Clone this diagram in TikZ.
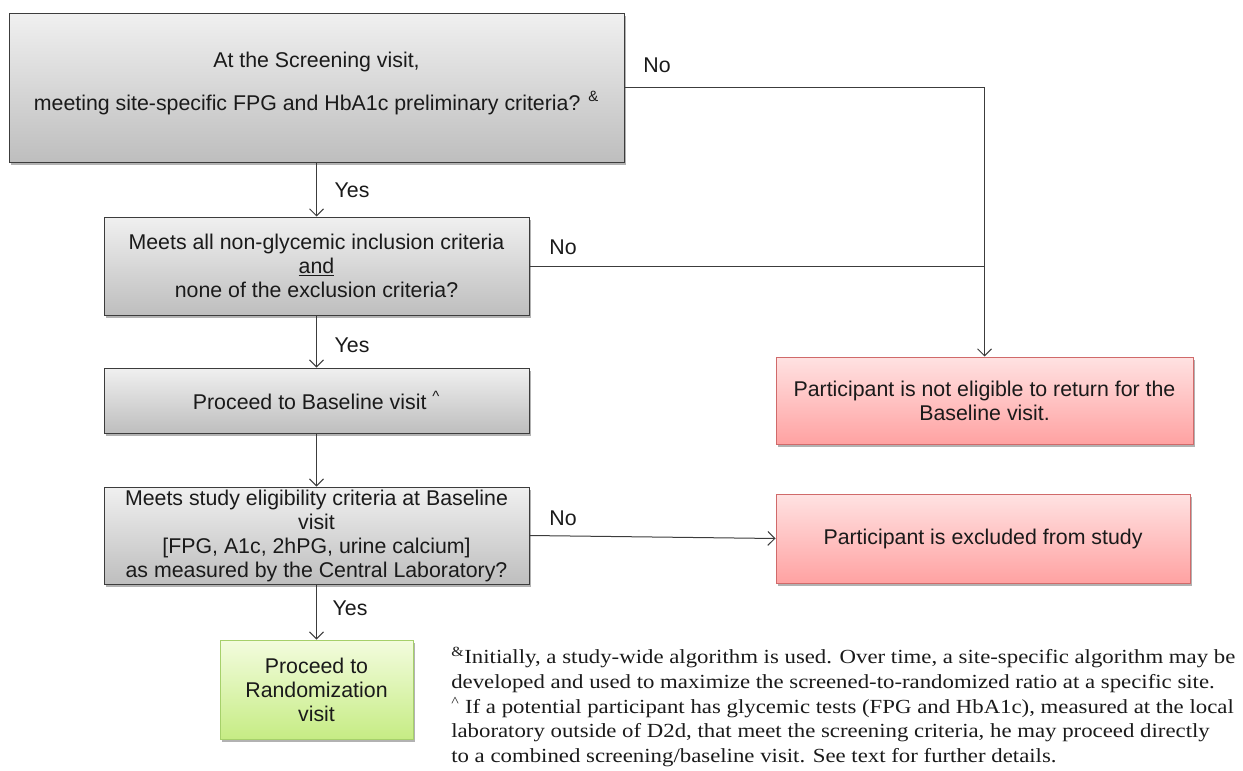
\documentclass[tikz,border=0pt]{standalone}
\usepackage{fontspec}
\setmainfont{Liberation Sans}
\newfontfamily\notefont[FakeStretch=1.14]{Liberation Serif}
\usetikzlibrary{arrows.meta,shadows}
\definecolor{graytop}{HTML}{F0F0F0}
\definecolor{graybot}{HTML}{BEBEBE}
\definecolor{grayline}{HTML}{3C3C3C}
\definecolor{redtop}{HTML}{FFE2E2}
\definecolor{redbot}{HTML}{FFA2A2}
\definecolor{redline}{HTML}{D06A6A}
\definecolor{greentop}{HTML}{F3FCDE}
\definecolor{greenbot}{HTML}{C6EC84}
\definecolor{greenline}{HTML}{A6D06A}
\definecolor{txt}{HTML}{1A1A1A}
\newcommand\boxfont{\fontsize{16pt}{18pt}\selectfont}
\newcommand\notesize{\fontsize{15pt}{18.56pt}\selectfont}
\begin{document}
\begin{tikzpicture}[x=0.75pt,y=-0.75pt,
  basebox/.style={inner sep=0pt, align=center, font=\boxfont, text=txt,
    line width=0.75pt,
    drop shadow={shadow xshift=1.5pt, shadow yshift=-1.9pt, opacity=0.3, fill=black}},
  gbox/.style={basebox, draw=grayline, top color=graytop, bottom color=graybot},
  rbox/.style={basebox, draw=redline, top color=redtop, bottom color=redbot},
  ngbox/.style={basebox, draw=greenline, top color=greentop, bottom color=greenbot},
  lbl/.style={font=\boxfont, text=txt, inner sep=0pt},
  conn/.style={draw=grayline, line width=0.75pt},
  arr/.style={conn, -{Straight Barb[length=5.25pt, width=10.5pt, line width=0.75pt]}},
  note/.style={font=\notefont\notesize, text=txt, align=left, inner sep=0pt}]
\useasboundingbox (0,0) rectangle (1243,771);

\node[gbox, minimum width=461.25pt, minimum height=111.75pt] (b1) at (316.5,87.5)
  {At the Screening visit,\\[14pt]meeting site-specific FPG and HbA1c preliminary criteria? \textsuperscript{\&}\\[-8.5pt]\mbox{}};
\node[gbox, minimum width=318.75pt, minimum height=73.5pt] (b2) at (316.5,266)
  {Meets all non-glycemic inclusion criteria\\\underline{and}\\none of the exclusion criteria?};
\node[gbox, minimum width=318.75pt, minimum height=48.75pt] (b3) at (316.5,400.5)
  {Proceed to Baseline visit \textsuperscript{\textasciicircum}};
\node[gbox, minimum width=318.75pt, minimum height=72.75pt] (b4) at (316.5,535.5)
  {Meets study eligibility criteria at Baseline\\visit\\{[FPG, A1c, 2hPG, urine calcium]}\\as measured by the Central Laboratory?};
\node[ngbox, minimum width=144.75pt, minimum height=74.25pt] (b5) at (316.5,689.5)
  {Proceed to\\Randomization\\visit};
\node[rbox, minimum width=312.75pt, minimum height=65.25pt] (ne) at (984.5,400.5)
  {Participant is not eligible to return for the\\Baseline visit.};
\node[rbox, minimum width=310.5pt, minimum height=66.75pt] (ex) at (983,538.5)
  {Participant is excluded from study};

\draw[arr] (b1) -- (b2);
\draw[arr] (b2) -- (b3);
\draw[arr] (b3) -- (b4);
\draw[arr] (b4) -- (b5);
\draw[arr] (b1.east) -| (ne.north);
\draw[conn] (b2.east) -- (b2.east -| ne.north);
\draw[arr] (b4.east) -- (ex.west);

\node[lbl] (no1) at (657,65) {No};
\node[lbl] (no2) at (563,247) {No};
\node[lbl] (no3) at (563,518) {No};
\node[lbl] (yes1) at (352,190) {Yes};
\node[lbl] (yes2) at (352,345) {Yes};
\node[lbl] (yes3) at (350,608) {Yes};

\node[note, anchor=north west] (fn) at (451,647)
  {\textsuperscript{\&}Initially, a study-wide algorithm is used. Over time, a site-specific algorithm may be\\
   developed and used to maximize the screened-to-randomized ratio at a specific site.\\
   \textsuperscript{\textasciicircum} If a potential participant has glycemic tests (FPG and HbA1c), measured at the local\\
   laboratory outside of D2d, that meet the screening criteria, he may proceed directly\\
   to a combined screening/baseline visit. See text for further details.};
\end{tikzpicture}
\end{document}
